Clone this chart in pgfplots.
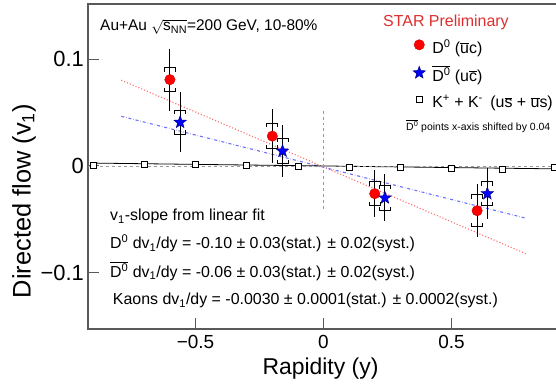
\documentclass[border=0pt]{standalone}
\usepackage{fontspec}
\setmainfont{Liberation Sans}
\usepackage{pgfplots}
\usepackage{pgfplotstable}
\pgfplotsset{compat=1.18}

\newcommand{\ol}[1]{\ensuremath{\overline{\mbox{#1}}}}

\definecolor{starred}{RGB}{222,45,45}
\definecolor{fitred}{RGB}{255,110,110}
\definecolor{fitblue}{RGB}{110,110,255}

\pgfdeclareplotmark{bractop}{%
 \pgfpathmoveto{\pgfqpoint{-\pgfplotmarksize}{-0.7\pgfplotmarksize}}%
 \pgfpathlineto{\pgfqpoint{-\pgfplotmarksize}{0pt}}%
 \pgfpathlineto{\pgfqpoint{\pgfplotmarksize}{0pt}}%
 \pgfpathlineto{\pgfqpoint{\pgfplotmarksize}{-0.7\pgfplotmarksize}}%
 \pgfusepathqstroke}
\pgfdeclareplotmark{bracbot}{%
 \pgfpathmoveto{\pgfqpoint{-\pgfplotmarksize}{0.7\pgfplotmarksize}}%
 \pgfpathlineto{\pgfqpoint{-\pgfplotmarksize}{0pt}}%
 \pgfpathlineto{\pgfqpoint{\pgfplotmarksize}{0pt}}%
 \pgfpathlineto{\pgfqpoint{\pgfplotmarksize}{0.7\pgfplotmarksize}}%
 \pgfusepathqstroke}
\pgfdeclareplotmark{fstar}{%
 \pgfpathmoveto{\pgfpointpolar{90}{\pgfplotmarksize}}%
 \pgfpathlineto{\pgfpointpolar{126}{0.42\pgfplotmarksize}}%
 \pgfpathlineto{\pgfpointpolar{162}{\pgfplotmarksize}}%
 \pgfpathlineto{\pgfpointpolar{198}{0.42\pgfplotmarksize}}%
 \pgfpathlineto{\pgfpointpolar{234}{\pgfplotmarksize}}%
 \pgfpathlineto{\pgfpointpolar{270}{0.42\pgfplotmarksize}}%
 \pgfpathlineto{\pgfpointpolar{306}{\pgfplotmarksize}}%
 \pgfpathlineto{\pgfpointpolar{342}{0.42\pgfplotmarksize}}%
 \pgfpathlineto{\pgfpointpolar{18}{\pgfplotmarksize}}%
 \pgfpathlineto{\pgfpointpolar{54}{0.42\pgfplotmarksize}}%
 \pgfpathclose
 \pgfusepathqfillstroke}

% D0: x, v1, stat, syst
\pgfplotstableread{
x     y       stat   sys
-0.60  0.081  0.029  0.011
-0.20  0.028  0.025  0.012
 0.20 -0.026  0.022  0.011
 0.60 -0.042  0.025  0.015
}\dzero
% anti-D0 (shifted by 0.04)
\pgfplotstableread{
x     y       stat   sys
-0.56  0.041  0.028  0.011
-0.16  0.014  0.024  0.012
 0.24 -0.030  0.022  0.012
 0.64 -0.026  0.024  0.011
}\dzerobar
% kaons
\pgfplotstableread{
x     y
-0.9   0.0005
-0.7   0.0015
-0.5   0.0012
-0.3   0.0002
-0.1  -0.0008
 0.1  -0.0010
 0.3  -0.0015
 0.5  -0.0020
 0.7  -0.0030
 0.9  -0.0010
}\kaons

\begin{document}
\begin{tikzpicture}[x=1bp,y=1bp]
\begin{axis}[
  at={(88bp,56bp)}, anchor=south west,
  scale only axis, width=471bp, height=325bp,
  xmin=-0.92, xmax=0.92, ymin=-0.153, ymax=0.152,
  axis line style={black!65, line width=1.1bp},
  tick pos=left, tick align=inside, major tick length=11bp,
  tick style={black!65, line width=1bp},
  xtick={-0.5,0,0.5}, xticklabels={−0.5,0,0.5},
  ytick={-0.1,0,0.1}, yticklabels={−0.1,0,0.1},
  xticklabel style={font=\fontsize{19}{19}\selectfont, inner sep=0pt, yshift=-6bp},
  yticklabel style={font=\fontsize{22}{22}\selectfont, inner sep=0pt, xshift=-4bp},
  xlabel={Rapidity (y)},
  xlabel style={font=\fontsize{23}{23}\selectfont, at={(rel axis cs:0.4936,-0.1415)}, anchor=base},
  ylabel={Directed flow (v\textsubscript{1})},
  ylabel style={font=\fontsize{25.5}{25.5}\selectfont, at={(rel axis cs:-0.1359,0.393)}, anchor=center},
  legend style={draw=none, fill=none, inner sep=0pt, at={(rel axis cs:0.688,0.891)}, anchor=north west,
     font=\fontsize{16}{16}\selectfont, nodes={inner sep=0pt, text height=11bp, text depth=4bp},
     row sep=9bp, column sep=6bp},
  legend cell align=left,
  legend image code/.code={\path[draw=none,fill=none] (0bp,0bp) rectangle (14bp,10bp); \draw[#1] plot coordinates {(7bp,5bp)};},
  clip=false,
]
% fit lines
\addplot[fitred, dotted, line width=1.1bp, forget plot] coordinates {(-0.79,0.0805) (0.79,-0.0823)};
\addplot[fitblue, dash dot, line width=1.1bp, forget plot] coordinates {(-0.79,0.0466) (0.79,-0.0490)};
% reference lines
\addplot[black, line width=0.8bp, forget plot] coordinates {(-0.9,0.0027) (0.9,-0.0027)};
\addplot[gray!80, dashed, line width=0.8bp, forget plot] coordinates {(-0.92,0) (0.92,0)};
\addplot[gray!80, dashed, line width=0.8bp, forget plot] coordinates {(0,0.052) (0,-0.041)};
% systematic brackets
\addplot[only marks, mark=bractop, mark size=5.5bp, mark options={black, line width=0.9bp}, forget plot]
  table[x=x, y expr=\thisrow{y}+\thisrow{sys}] {\dzero};
\addplot[only marks, mark=bracbot, mark size=5.5bp, mark options={black, line width=0.9bp}, forget plot]
  table[x=x, y expr=\thisrow{y}-\thisrow{sys}] {\dzero};
\addplot[only marks, mark=bractop, mark size=5.5bp, mark options={black, line width=0.9bp}, forget plot]
  table[x=x, y expr=\thisrow{y}+\thisrow{sys}] {\dzerobar};
\addplot[only marks, mark=bracbot, mark size=5.5bp, mark options={black, line width=0.9bp}, forget plot]
  table[x=x, y expr=\thisrow{y}-\thisrow{sys}] {\dzerobar};
% D0 (stat errors + points)
\addplot[only marks, mark=*, mark size=5.2bp, mark options={fill=red, draw=red!80!black, line width=0.4bp},
  error bars/.cd, y dir=both, y explicit, error mark=none, error bar style={black, line width=1bp}]
  table[x=x, y=y, y error=stat] {\dzero};
\addlegendentry{D\textsuperscript{0} (\ol{u}c)}
\addplot[only marks, mark=fstar, mark size=6.5bp, mark options={fill=blue, draw=blue!50!black, line width=0.5bp},
  error bars/.cd, y dir=both, y explicit, error mark=none, error bar style={black, line width=1bp}]
  table[x=x, y=y, y error=stat] {\dzerobar};
\addlegendentry{\ol{D\textsuperscript{0}} (u\ol{c})}
\addplot[only marks, mark=square*, mark size=3bp, mark options={fill=white, draw=black, line width=0.7bp}]
  table[x=x, y=y] {\kaons};
\addlegendentry{K\textsuperscript{+} + K\textsuperscript{-}\hspace{3bp} (u\ol{s} + \ol{u}s)}
\end{axis}
% annotations
\node[anchor=base west, inner sep=0pt, font=\fontsize{15.5}{15.5}\selectfont] at (100bp,354.3bp)
  {Au+Au $\sqrt{\mbox{s\textsubscript{NN}}}$=200 GeV, 10-80\%};
\node[anchor=base west, inner sep=0pt, text=starred, font=\fontsize{16}{16}\selectfont] at (383bp,358.3bp)
  {STAR Preliminary};
\node[anchor=base west, inner sep=0pt, font=\fontsize{10.5}{10.5}\selectfont] at (406bp,254.3bp)
  {\ol{D\textsuperscript{0}} points x-axis shifted by 0.04};
\begin{scope}[every node/.style={anchor=base west, inner sep=0pt, font=\fontsize{16}{16}\selectfont}]
\node at (110bp,164.3bp) {v\textsubscript{1}-slope from linear fit};
\node at (110bp,136bp) {D\textsuperscript{0} dv\textsubscript{1}/dy = -0.10 ± 0.03(stat.) ± 0.02(syst.)};
\node at (110bp,107.7bp) {\ol{D\textsuperscript{0}} dv\textsubscript{1}/dy = -0.06 ± 0.03(stat.) ± 0.02(syst.)};
\node at (112.7bp,80bp) {Kaons dv\textsubscript{1}/dy = -0.0030 ± 0.0001(stat.) ± 0.0002(syst.)};
\end{scope}
\pgfresetboundingbox
\useasboundingbox (0bp,0bp) rectangle (556bp,385bp);
\end{tikzpicture}
\end{document}
